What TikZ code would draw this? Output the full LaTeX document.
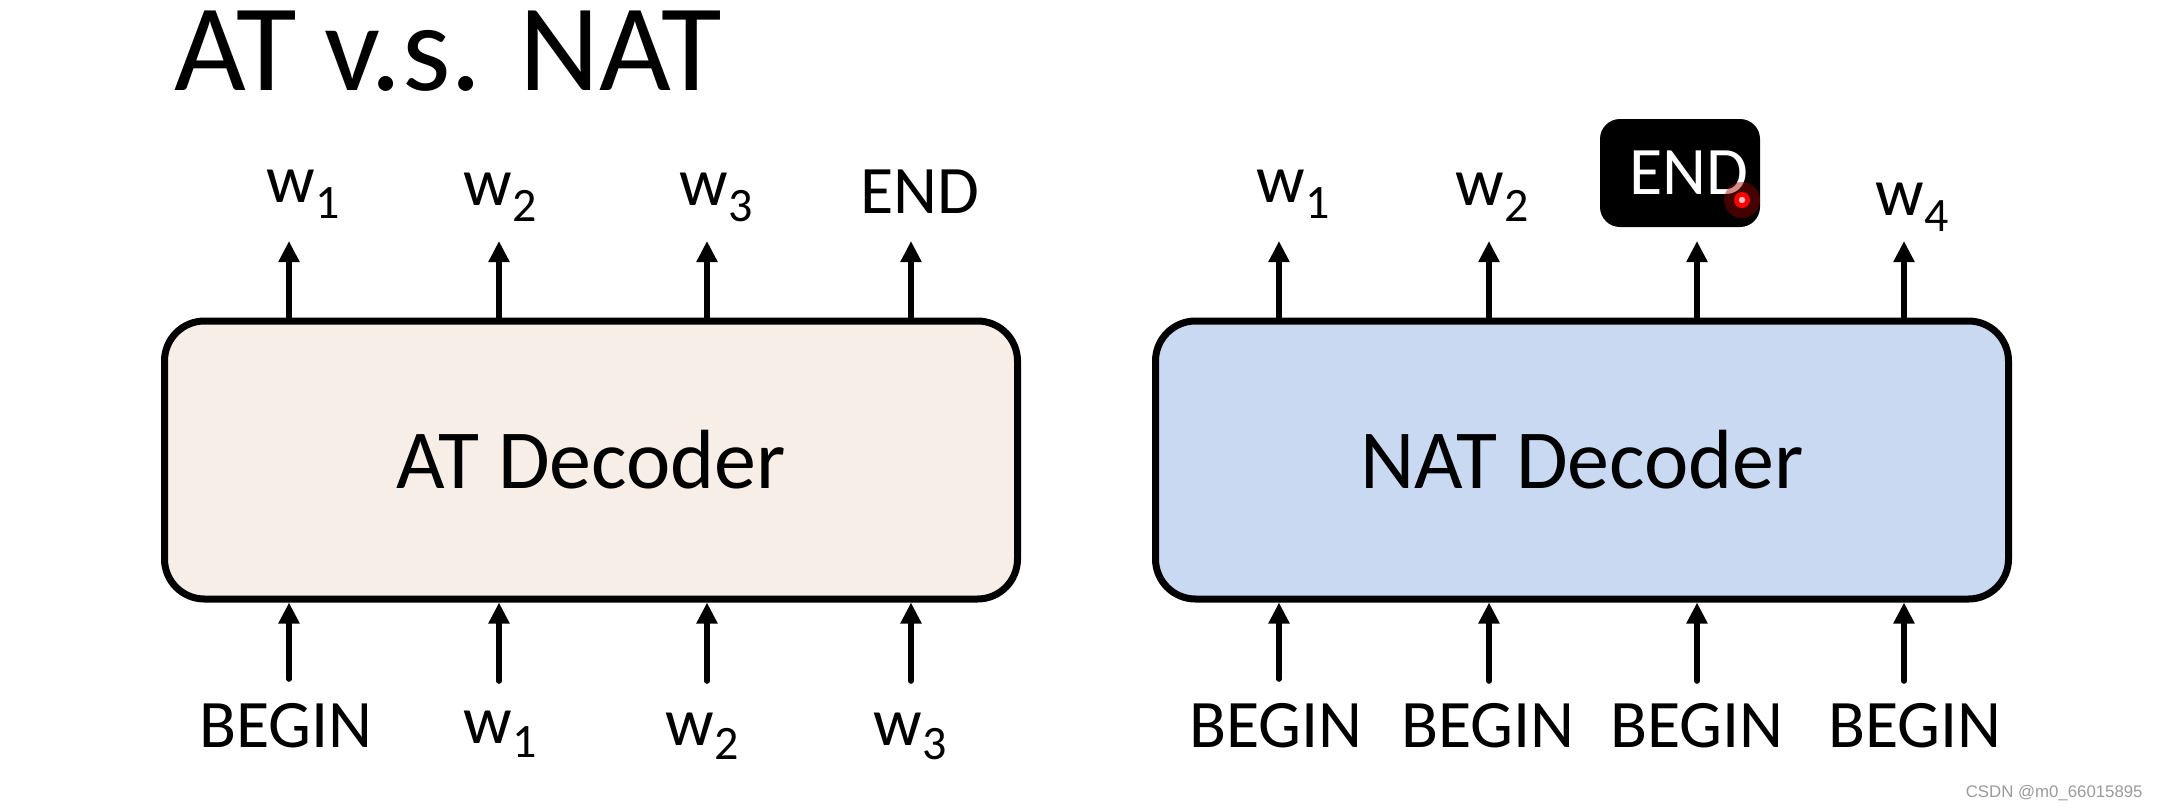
\documentclass[tikz,border=0pt]{standalone}
\usepackage{fontspec}
\setmainfont{Carlito}
\newfontfamily\wmfont{Liberation Sans}
\usetikzlibrary{arrows.meta}
\definecolor{atfill}{HTML}{F8EEE8}
\definecolor{natfill}{HTML}{CAD9F2}
\definecolor{wmgray}{HTML}{9A9A9A}
\newcommand{\wtop}[1]{w\raisebox{-8pt}{\fontsize{24}{24}\selectfont #1}}
\newcommand{\wlow}[1]{w\raisebox{-7pt}{\fontsize{24}{24}\selectfont #1}}

\begin{document}
\begin{tikzpicture}[line cap=round,line join=round,>={Triangle[width=10pt,length=10.5pt]},x=0.5pt,y=-0.5pt,
	decbox/.style={draw=black,line width=3.5pt,rounded corners=20pt,minimum width=426.5pt,minimum height=139pt,inner sep=0pt,font=\fontsize{42}{50}\selectfont},
	tok/.style={anchor=base,inner sep=0pt,font=\fontsize{34}{40}\selectfont},
	flow/.style={->,line width=2.8pt}]
	\useasboundingbox (0,0) rectangle (2160,810);
	\node[anchor=base west,inner sep=0pt,font=\fontsize{62}{66}\selectfont] (title) at (174,90) {AT v.s. NAT};
	% the two decoders
	\node[decbox,fill=atfill] (atdec) at (591,460) {AT Decoder};
	\node[decbox,fill=natfill] (natdec) at (1582,460) {NAT Decoder};
	% AT outputs
	\node[tok] (atout1) at (303,202) {\wtop{1}};
	\node[tok] (atout2) at (500,205) {\wtop{2}};
	\node[tok] (atout3) at (716,205) {\wtop{3}};
	\node[tok] (atout4) at (920,213) {END};
	% AT inputs
	\node[tok] (atin1) at (286,747) {BEGIN};
	\node[tok] (atin2) at (500,743) {\wlow{1}};
	\node[tok] (atin3) at (702,745) {\wlow{2}};
	\node[tok] (atin4) at (910,745) {\wlow{3}};
	% NAT outputs
	\node[tok] (natout1) at (1293,202) {\wtop{1}};
	\node[tok] (natout2) at (1492,205) {\wtop{2}};
	\node[tok,anchor=center,fill=black,text=white,rounded corners=10pt,minimum width=80pt,minimum height=54pt] (natout3) at (1680,173) {\hspace*{9pt}END};
	\node[tok] (natout4) at (1912,215) {\wtop{4}};
	% NAT inputs
	\node[tok] (natin1) at (1276,747) {BEGIN};
	\node[tok] (natin2) at (1488,747) {BEGIN};
	\node[tok] (natin3) at (1697,747) {BEGIN};
	\node[tok] (natin4) at (1915,747) {BEGIN};
	% arrow ends
	\coordinate (atup1) at (289,241);
	\coordinate (atup2) at (499,241);
	\coordinate (atup3) at (707,241);
	\coordinate (atup4) at (911,241);
	\coordinate (atlow1) at (289,679);
	\coordinate (atlow2) at (499,681);
	\coordinate (atlow3) at (707,681);
	\coordinate (atlow4) at (911,681);
	\coordinate (natup1) at (1279,241);
	\coordinate (natup2) at (1489,241);
	\coordinate (natup3) at (1697,241);
	\coordinate (natup4) at (1904,241);
	\coordinate (natlow1) at (1279,679);
	\coordinate (natlow2) at (1489,681);
	\coordinate (natlow3) at (1697,681);
	\coordinate (natlow4) at (1904,681);
	\draw[flow] (atup1 |- atdec.north) -- (atup1);
	\draw[flow] (atup2 |- atdec.north) -- (atup2);
	\draw[flow] (atup3 |- atdec.north) -- (atup3);
	\draw[flow] (atup4 |- atdec.north) -- (atup4);
	\draw[flow] (atlow1) -- (atlow1 |- atdec.south);
	\draw[flow] (atlow2) -- (atlow2 |- atdec.south);
	\draw[flow] (atlow3) -- (atlow3 |- atdec.south);
	\draw[flow] (atlow4) -- (atlow4 |- atdec.south);
	\draw[flow] (natup1 |- natdec.north) -- (natup1);
	\draw[flow] (natup2 |- natdec.north) -- (natup2);
	\draw[flow] (natup3 |- natdec.north) -- (natup3);
	\draw[flow] (natup4 |- natdec.north) -- (natup4);
	\draw[flow] (natlow1) -- (natlow1 |- natdec.south);
	\draw[flow] (natlow2) -- (natlow2 |- natdec.south);
	\draw[flow] (natlow3) -- (natlow3 |- natdec.south);
	\draw[flow] (natlow4) -- (natlow4 |- natdec.south);
	% pointer spot
	\fill[red!60!black,opacity=0.45] (1742,200) circle (9pt);
	\fill[red] (1742,200) circle (4pt);
	\fill[red!25!white] (1742,200) circle (1.6pt);
	\node[anchor=base east,inner sep=0pt,text=wmgray,font=\wmfont\fontsize{8.4}{10}\selectfont] (mark) at (2143,797) {CSDN @m0\_66015895};
\end{tikzpicture}
\end{document}
